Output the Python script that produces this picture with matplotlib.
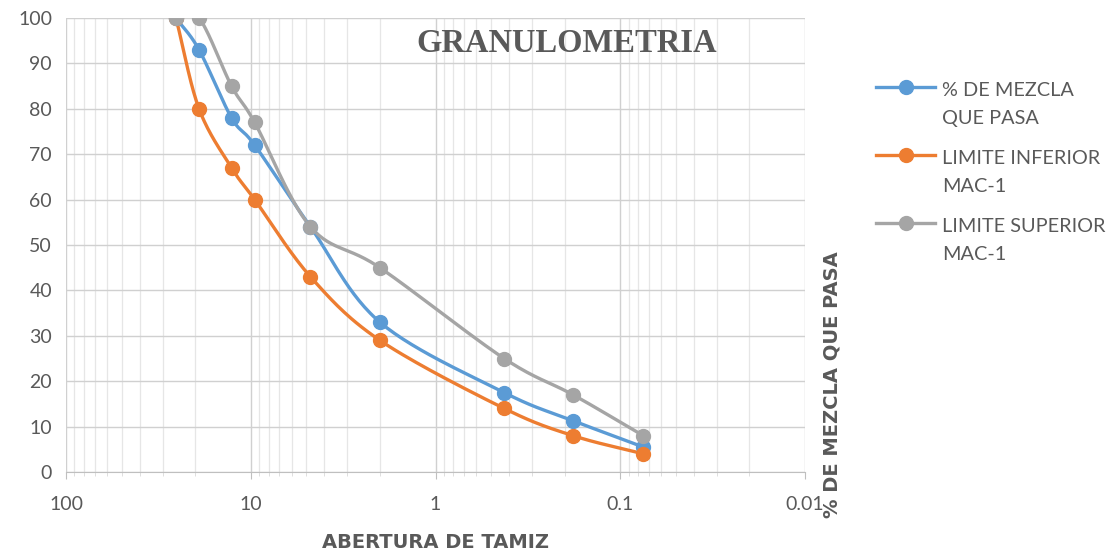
import numpy as np
import matplotlib
matplotlib.use("Agg")
import matplotlib.pyplot as plt
from matplotlib.ticker import FixedLocator, FuncFormatter, LogLocator, NullFormatter
from matplotlib.legend_handler import HandlerLine2D

# ---- data ----
sieve_mm = [25.4, 19.05, 12.7, 9.525, 4.75, 2.0, 0.425, 0.18, 0.075]
mezcla = [100, 93, 78, 72, 54, 33, 17.5, 11.3, 5.5]
lim_inf = [100, 80, 67, 60, 43, 29, 14, 8, 4]
lim_sup = [100, 100, 85, 77, 54, 45, 25, 17, 8]
series_labels = ["% DE MEZCLA\nQUE PASA", "LIMITE INFERIOR\nMAC-1", "LIMITE SUPERIOR\nMAC-1"]
x_ticks = [100, 10, 1, 0.1, 0.01]
title = "GRANULOMETRIA"
xlabel = "ABERTURA DE TAMIZ"
ylabel = "% DE MEZCLA QUE PASA"

colors = ["#5B9BD5", "#ED7D31", "#A5A5A5"]
TICK_FONT = ["Lato", "DejaVu Sans"]
TXT = "#595959"

fig = plt.figure(figsize=(11.18, 5.56), dpi=100)
ax = fig.add_axes([66 / 1118, 84 / 556, (805 - 66) / 1118, (472 - 18) / 556])
ax.set_xscale("log")
ax.set_xlim(100, 0.01)
ax.set_ylim(0, 100)


def smooth(xs, ys, n=30):
    # Catmull-Rom smoothing in display-like space (rendering only)
    u = np.log10(np.array(xs, float)) * 188.0
    v = np.array(ys, float) * 4.54
    P = np.column_stack([u, v])
    P = np.vstack([P[0] - (P[1] - P[0]), P, P[-1] + (P[-1] - P[-2])])
    out = []
    for i in range(1, len(P) - 2):
        p0, p1, p2, p3 = P[i - 1], P[i], P[i + 1], P[i + 2]
        t = np.linspace(0, 1, n)[:, None]
        c1 = p1 + (p2 - p0) / 6.0
        c2 = p2 - (p3 - p1) / 6.0
        seg = ((1 - t) ** 3) * p1 + 3 * ((1 - t) ** 2) * t * c1 + 3 * (1 - t) * t ** 2 * c2 + t ** 3 * p2
        out.append(seg if i == 1 else seg[1:])
    out = np.vstack(out)
    return 10 ** (out[:, 0] / 188.0), out[:, 1] / 4.54


handles = []
for ys, col, lab in zip([mezcla, lim_inf, lim_sup], colors, series_labels):
    sx, sy = smooth(sieve_mm, ys)
    ax.plot(sx, sy, color=col, lw=2.4, solid_capstyle="round", zorder=3)
    ax.plot(sieve_mm, ys, "o", color=col, ms=10, zorder=4)
    h, = ax.plot([], [], color=col, lw=2.4, marker="o", ms=10, label=lab)
    handles.append(h)

# grid
ax.xaxis.set_major_locator(FixedLocator(x_ticks))
ax.xaxis.set_minor_locator(LogLocator(base=10, subs=np.arange(2, 10)))
ax.xaxis.set_minor_formatter(NullFormatter())
ax.xaxis.set_major_formatter(FuncFormatter(lambda v, p: "%g" % v))
ax.set_yticks(np.arange(0, 101, 10))
ax.grid(which="major", axis="both", color="#D0D0D0", lw=1.0, zorder=0)
ax.grid(which="minor", axis="x", color="#E6E6E6", lw=0.9, zorder=0)
ax.set_axisbelow(True)
for s in ["top", "right", "left"]:
    ax.spines[s].set_visible(False)
ax.spines["bottom"].set_color("#BFBFBF")
ax.tick_params(axis="y", length=0, pad=10, labelsize=14, labelcolor=TXT)
ax.tick_params(axis="x", which="major", length=5, color="#BFBFBF", pad=12, labelsize=14, labelcolor=TXT)
ax.tick_params(axis="x", which="minor", length=3, color="#D9D9D9")
for lbl in ax.get_xticklabels() + ax.get_yticklabels():
    lbl.set_family(TICK_FONT)

ax.set_xlabel(xlabel, fontsize=14, fontweight="bold", color=TXT,
              family=["Liberation Sans Narrow", "DejaVu Sans"], labelpad=15)

fig.text(832 / 1118, 1 - 385 / 556, ylabel, rotation=90, ha="center", va="center",
         fontsize=14, fontweight="bold", color=TXT, family=["Liberation Sans Narrow", "DejaVu Sans"])

fig.text(567 / 1118, 1 - 44 / 556, title, ha="center", va="center",
         fontsize=23.5, fontweight="bold", color=TXT, family=["Liberation Serif", "DejaVu Serif"])


class TopHandler(HandlerLine2D):
    def create_artists(self, legend, orig_handle, xdescent, ydescent, width, height, fontsize, trans):
        return super().create_artists(legend, orig_handle, xdescent, ydescent - 1.75 * fontsize,
                                      width, height, fontsize, trans)


leg = fig.legend(handles=handles, loc="upper left", bbox_to_anchor=(858 / 1118, 1 - 64 / 556),
                 frameon=False, handlelength=3.0, handletextpad=0.35, labelspacing=1.15,
                 prop={"family": TICK_FONT, "size": 14.3},
                 handler_map={h: TopHandler() for h in handles})
for t in leg.get_texts():
    t.set_color(TXT)
    t.set_linespacing(1.8)

fig.savefig("out.png", dpi=100)
